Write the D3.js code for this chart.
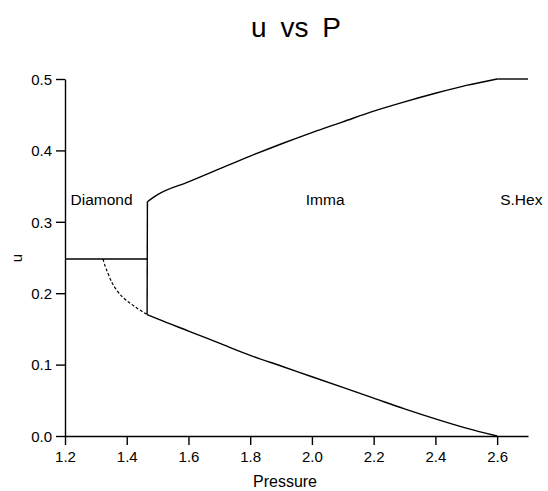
<!DOCTYPE html>
<html>
<head>
<meta charset="utf-8">
<script src="https://cdn.jsdelivr.net/npm/d3@7"></script>
<style>
  body { margin: 0; background: #fff; }
  text { font-family: "Liberation Sans", Arial, sans-serif; fill: #000; }
</style>
</head>
<body>
<svg id="chart" width="548" height="491"></svg>
<script>
// ---- data ----
const xTicks = [1.2, 1.4, 1.6, 1.8, 2.0, 2.2, 2.4, 2.6];
const yTicks = [0.0, 0.1, 0.2, 0.3, 0.4, 0.5];

const diamondP = [1.2, 1.467];
const diamondU = [0.248, 0.248];

const boundaryP = [1.467, 1.466];
const boundaryU = [0.328, 0.170];

const dashedP = [1.323, 1.330, 1.339, 1.352, 1.368, 1.388, 1.411, 1.437, 1.466];
const dashedU = [0.248, 0.238, 0.228, 0.215, 0.204, 0.194, 0.186, 0.178, 0.170];

const upperP = [1.467, 1.5, 1.6, 1.7, 1.8, 1.9, 2.0, 2.1, 2.2, 2.3, 2.4, 2.5, 2.6];
const upperU = [0.328, 0.338, 0.356, 0.374, 0.392, 0.409, 0.425, 0.440, 0.455, 0.468, 0.480, 0.491, 0.500];

const shexP = [2.6, 2.7];
const shexU = [0.500, 0.500];

const lowerP = [1.466, 1.5, 1.6, 1.7, 1.8, 1.9, 2.0, 2.1, 2.2, 2.3, 2.4, 2.5, 2.6];
const lowerU = [0.170, 0.164, 0.147, 0.130, 0.113, 0.098, 0.083, 0.068, 0.053, 0.038, 0.024, 0.011, 0.000];

const phaseNames = ["Diamond", "Imma", "S.Hex"];
const phaseP = [1.218, 1.98, 2.61];
const phaseU = [0.324, 0.324, 0.324];

// ---- layout ----
const svg = d3.select("#chart");
const x = d3.scaleLinear().domain([1.2, 2.7]).range([65, 528]);
const y = d3.scaleLinear().domain([0, 0.5]).range([436, 79]);

const line = d3.line().x(d => x(d[0])).y(d => y(d[1]));
const smooth = d3.line().curve(d3.curveMonotoneX).x(d => x(d[0])).y(d => y(d[1]));
const zip = (a, b) => a.map((v, i) => [v, b[i]]);

// axes
const xAxis = d3.axisBottom(x).tickValues(xTicks).tickSize(9).tickPadding(6)
  .tickFormat(d3.format(".1f")).tickSizeOuter(0);
const gx = svg.append("g").attr("transform", `translate(0,${y(0)})`).call(xAxis);
const yAxis = d3.axisLeft(y).tickValues(yTicks).tickSize(9).tickPadding(4)
  .tickFormat(d3.format(".1f")).tickSizeOuter(0);
const gy = svg.append("g").attr("transform", `translate(${x(1.2)},0)`).call(yAxis);
[gx, gy].forEach(g => {
  g.selectAll("path").attr("stroke", "#000").attr("stroke-width", 1.4);
  g.selectAll("line").attr("stroke", "#000").attr("stroke-width", 1.4);
  g.selectAll("text").attr("font-size", 15).attr("font-family", "Liberation Sans, Arial, sans-serif").attr("fill", "#000");
});
gy.selectAll("text").attr("dy", "0.35em");

// lines
[zip(diamondP, diamondU), zip(boundaryP, boundaryU), zip(shexP, shexU)].forEach(s =>
  svg.append("path").datum(s).attr("d", line)
    .attr("fill", "none").attr("stroke", "#000").attr("stroke-width", 1.4));
[zip(upperP, upperU), zip(lowerP, lowerU)].forEach(s =>
  svg.append("path").datum(s).attr("d", smooth)
    .attr("fill", "none").attr("stroke", "#000").attr("stroke-width", 1.4));
svg.append("path").datum(zip(dashedP, dashedU)).attr("d", smooth)
  .attr("fill", "none").attr("stroke", "#000").attr("stroke-width", 1.2)
  .attr("stroke-dasharray", "3,2");

// phase labels
svg.selectAll("text.phase").data(phaseNames).enter().append("text")
  .attr("class", "phase")
  .attr("x", (d, i) => x(phaseP[i])).attr("y", (d, i) => y(phaseU[i]))
  .attr("font-size", 15.5).text(d => d);

// title and axis labels
svg.append("text").attr("x", 296).attr("y", 37).attr("text-anchor", "middle")
  .attr("font-size", 28).style("word-spacing", "6px").text("u vs P");
svg.append("text").attr("x", 285).attr("y", 487).attr("text-anchor", "middle")
  .attr("font-size", 16).text("Pressure");
svg.append("text").attr("transform", "translate(22,258) rotate(-90)").attr("text-anchor", "middle")
  .attr("font-size", 15).text("u");
</script>
</body>
</html>
